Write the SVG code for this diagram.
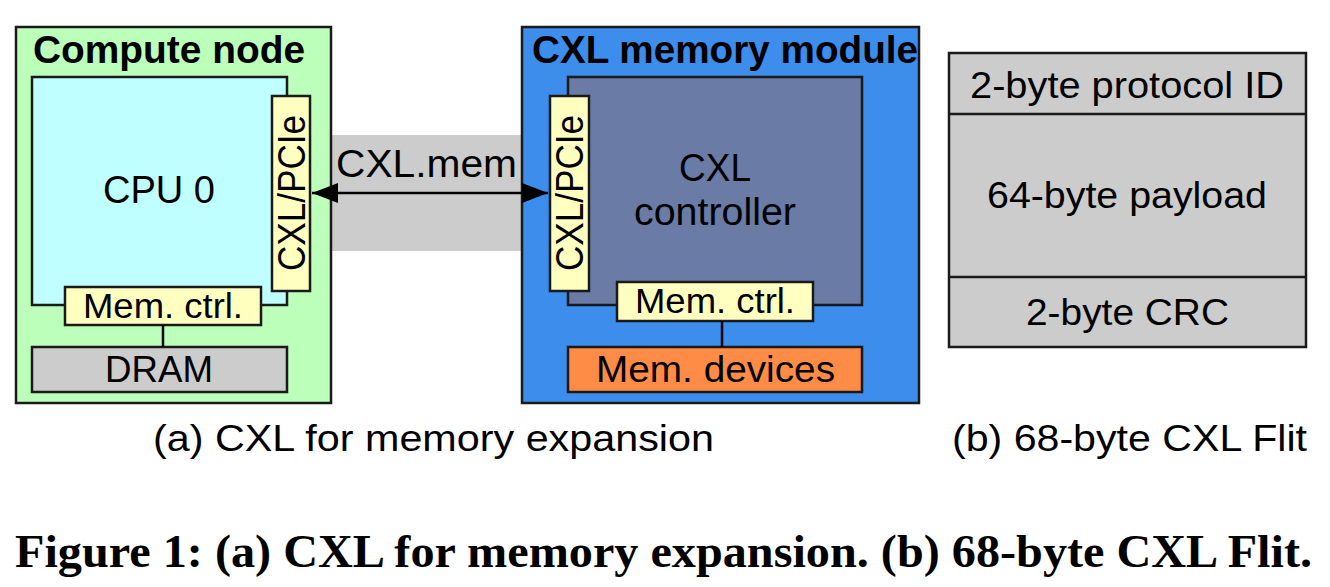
<svg xmlns="http://www.w3.org/2000/svg" width="1330" height="587" viewBox="0 0 1330 587">
<defs>
<style>
.box{stroke:#1a1a1a;stroke-width:2.5}
.t{font-family:"Liberation Sans",Arial,sans-serif;fill:#000}
.b{font-weight:bold}
.cap{font-family:"Liberation Serif","Times New Roman",serif;font-weight:bold;fill:#000}
.conn{stroke:#000;stroke-width:2.5;fill:none}
</style>
<marker id="ah" viewBox="0 0 26 20" refX="26" refY="10" markerWidth="26" markerHeight="20" markerUnits="userSpaceOnUse" orient="auto-start-reverse">
<path d="M0,0 L26,10 L0,20 Z" fill="#000"/>
</marker>
</defs>
<rect width="1330" height="587" fill="#fff"/>

<g id="link-band">
<rect x="331" y="135" width="192" height="116" fill="#cccccc"/>
</g>

<g id="compute-node">
<rect class="box" x="16" y="27" width="315" height="376" fill="#bbffbb"/>
<text class="t b" x="33" y="63" font-size="38" textLength="272" lengthAdjust="spacingAndGlyphs">Compute node</text>
</g>
<g id="cpu0">
<rect class="box" x="32" y="77" width="255" height="228" fill="#bfffff"/>
<text class="t" x="103" y="203" font-size="38" textLength="112" lengthAdjust="spacingAndGlyphs">CPU 0</text>
</g>
<g id="cpu-cxl-pcie">
<rect class="box" x="272" y="96" width="38" height="195" fill="#ffffc0"/>
<text class="t" transform="translate(305,271) rotate(-90)" font-size="38" textLength="156" lengthAdjust="spacingAndGlyphs">CXL/PCIe</text>
</g>
<g id="cpu-mem-ctrl">
<rect class="box" x="65" y="287" width="196" height="38" fill="#ffffc0"/>
<text class="t" x="83" y="318" font-size="35" textLength="160" lengthAdjust="spacingAndGlyphs">Mem. ctrl.</text>
</g>
<g id="dram">
<rect class="box" x="32" y="347" width="255" height="45" fill="#cccccc"/>
<text class="t" x="105" y="382" font-size="37" textLength="108" lengthAdjust="spacingAndGlyphs">DRAM</text>
</g>

<g id="memory-module">
<rect class="box" x="522" y="27" width="397" height="376" fill="#3c8dec"/>
<text class="t b" x="532" y="63" font-size="38" textLength="386" lengthAdjust="spacingAndGlyphs">CXL memory module</text>
</g>
<g id="cxl-controller">
<rect class="box" x="568" y="77" width="294" height="228" fill="#6a7ba5"/>
<text class="t" x="679" y="181" font-size="38" textLength="72" lengthAdjust="spacingAndGlyphs">CXL</text>
<text class="t" x="634" y="225" font-size="38" textLength="162" lengthAdjust="spacingAndGlyphs">controller</text>
</g>
<g id="mm-cxl-pcie">
<rect class="box" x="550" y="96" width="39" height="195" fill="#ffffc0"/>
<text class="t" transform="translate(583,271) rotate(-90)" font-size="38" textLength="156" lengthAdjust="spacingAndGlyphs">CXL/PCIe</text>
</g>
<g id="mm-mem-ctrl">
<rect class="box" x="617" y="282" width="196" height="39" fill="#ffffc0"/>
<text class="t" x="635" y="313" font-size="35" textLength="160" lengthAdjust="spacingAndGlyphs">Mem. ctrl.</text>
</g>
<g id="mem-devices">
<rect class="box" x="568" y="347" width="294" height="45" fill="#ff8c46"/>
<text class="t" x="596" y="382" font-size="37" textLength="239" lengthAdjust="spacingAndGlyphs">Mem. devices</text>
</g>

<g id="connectors">
<line class="conn" x1="163" y1="325" x2="163" y2="347"/>
<line class="conn" x1="722" y1="321" x2="722" y2="347"/>
<line class="conn" x1="312" y1="193" x2="548" y2="193" marker-start="url(#ah)" marker-end="url(#ah)"/>
<text class="t" x="336" y="177" font-size="38" textLength="181" lengthAdjust="spacingAndGlyphs">CXL.mem</text>
</g>

<g id="flit">
<rect class="box" x="949" y="53" width="357" height="294" fill="#cccccc"/>
<line class="box" x1="949" y1="114" x2="1306" y2="114"/>
<line class="box" x1="949" y1="277" x2="1306" y2="277"/>
<text class="t" x="970" y="98" font-size="36" textLength="314" lengthAdjust="spacingAndGlyphs">2-byte protocol ID</text>
<text class="t" x="987" y="208" font-size="36" textLength="280" lengthAdjust="spacingAndGlyphs">64-byte payload</text>
<text class="t" x="1026" y="325" font-size="36" textLength="203" lengthAdjust="spacingAndGlyphs">2-byte CRC</text>
</g>

<g id="subcaptions">
<text class="t" x="153" y="451" font-size="37" textLength="561" lengthAdjust="spacingAndGlyphs">(a) CXL for memory expansion</text>
<text class="t" x="952" y="451" font-size="37" textLength="355" lengthAdjust="spacingAndGlyphs">(b) 68-byte CXL Flit</text>
</g>
<g id="caption">
<text class="cap" x="15" y="567" font-size="46" textLength="1297" lengthAdjust="spacingAndGlyphs">Figure 1: (a) CXL for memory expansion. (b) 68-byte CXL Flit.</text>
</g>
</svg>
